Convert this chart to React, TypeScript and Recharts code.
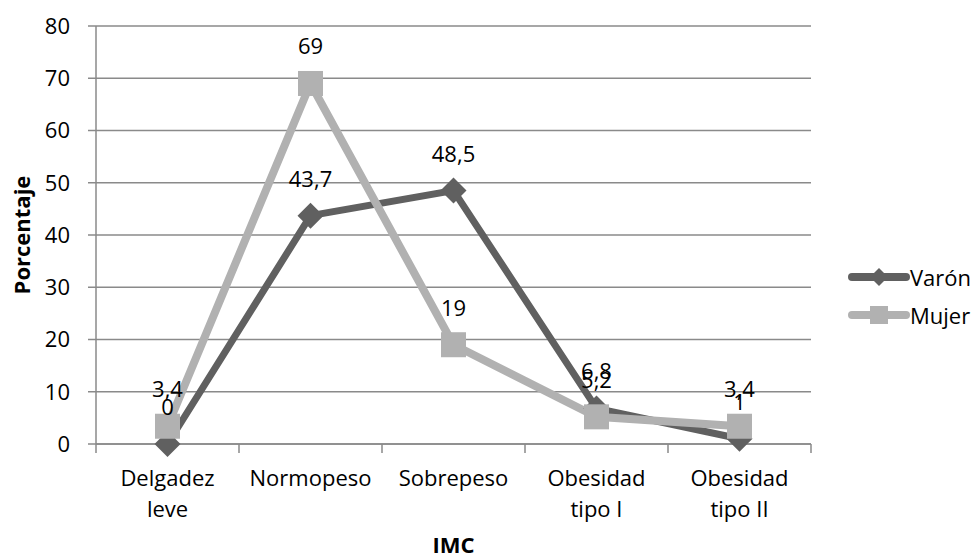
import React from 'react'
import { LineChart, Line, XAxis, YAxis, CartesianGrid, LabelList, Label } from 'recharts'

const categories = ['Delgadez leve', 'Normopeso', 'Sobrepeso', 'Obesidad tipo I', 'Obesidad tipo II']
const varon = [0, 43.7, 48.5, 6.8, 1]
const mujer = [3.4, 69, 19, 5.2, 3.4]
const yTicks = [0, 10, 20, 30, 40, 50, 60, 70, 80]

const VARON_COLOR = '#606060'
const MUJER_COLOR = '#b1b1b1'
const AXIS_COLOR = '#8a8a8a'
const FONT = '"Open Sans", "Liberation Sans", sans-serif'
const FS = 22

const data = categories.map((name, i) => ({ name, varon: varon[i], mujer: mujer[i] }))

const BAND = (811 - 96) / categories.length

const XTick = (props: any) => {
  const { x, payload, index } = props
  const words = String(payload.value).split(' ')
  const lines = words.length > 2 ? [words[0], words.slice(1).join(' ')] : words
  const top = 444
  return (
    <g>
      <line x1={x - BAND / 2} x2={x - BAND / 2} y1={top} y2={top + 9} stroke={AXIS_COLOR} strokeWidth={1.5} />
      {index === categories.length - 1 && (
        <line x1={x + BAND / 2} x2={x + BAND / 2} y1={top} y2={top + 9} stroke={AXIS_COLOR} strokeWidth={1.5} />
      )}
      {lines.map((l, i) => (
        <text key={i} x={x} y={486 + i * 31} textAnchor="middle" fontSize={FS} fill="#000" fontFamily={FONT}>
          {l}
        </text>
      ))}
    </g>
  )
}

const Diamond = (props: any) => {
  const { cx, cy } = props
  if (cx == null || cy == null) return null
  const r = 13
  return <path d={`M${cx},${cy - r}L${cx + r},${cy}L${cx},${cy + r}L${cx - r},${cy}Z`} fill={VARON_COLOR} />
}

const Square = (props: any) => {
  const { cx, cy } = props
  if (cx == null || cy == null) return null
  const s = 12.5
  return <rect x={cx - s} y={cy - s} width={s * 2} height={s * 2} fill={MUJER_COLOR} />
}

const valueLabel = (props: any) => {
  const { x, y, width, value } = props
  const cx = x + (width || 0) / 2
  return (
    <text x={cx} y={y - 29} textAnchor="middle" fontSize={FS} fill="#000" fontFamily={FONT}>
      {String(value).replace('.', ',')}
    </text>
  )
}

const legendItems = [
  { label: 'Varón', color: VARON_COLOR, shape: 'diamond' },
  { label: 'Mujer', color: MUJER_COLOR, shape: 'square' },
]

export default function App() {
  return (
    <div style={{ position: 'absolute', left: 0, top: 0, width: 977, height: 559, background: '#fff' }}>
      <LineChart width={977} height={559} data={data} margin={{ top: 26, right: 166, bottom: 0, left: 0 }}>
        <CartesianGrid vertical={false} stroke={AXIS_COLOR} strokeWidth={1.5} />
        <XAxis
          dataKey="name"
          scale="band"
          height={115}
          stroke={AXIS_COLOR}
          strokeWidth={1.5}
          tickLine={false}
          tick={<XTick />}
          interval={0}
        >
          <Label
            content={(p: any) => (
              <text
                x={p.viewBox.x + p.viewBox.width / 2}
                y={553}
                textAnchor="middle"
                fontSize={FS}
                fontWeight="bold"
                fill="#000"
                fontFamily={FONT}
              >
                IMC
              </text>
            )}
          />
        </XAxis>
        <YAxis
          domain={[0, 80]}
          ticks={yTicks}
          width={96}
          stroke={AXIS_COLOR}
          strokeWidth={1.5}
          tickSize={8}
          tickMargin={18}
          tick={{ fontSize: FS, fill: '#000', fontFamily: FONT }}
        >
          <Label
            content={(p: any) => {
              const cx = 30
              const cy = p.viewBox.y + p.viewBox.height / 2
              return (
                <text
                  x={cx}
                  y={cy}
                  transform={`rotate(-90 ${cx} ${cy})`}
                  textAnchor="middle"
                  fontSize={FS}
                  fontWeight="bold"
                  fill="#000"
                  fontFamily={FONT}
                >
                  Porcentaje
                </text>
              )
            }}
          />
        </YAxis>
        <Line
          dataKey="varon"
          name="Varón"
          stroke={VARON_COLOR}
          strokeWidth={7}
          dot={<Diamond />}
          activeDot={false}
          isAnimationActive={false}
        >
          <LabelList dataKey="varon" content={valueLabel} />
        </Line>
        <Line
          dataKey="mujer"
          name="Mujer"
          stroke={MUJER_COLOR}
          strokeWidth={8}
          dot={<Square />}
          activeDot={false}
          isAnimationActive={false}
        >
          <LabelList dataKey="mujer" content={valueLabel} />
        </Line>
      </LineChart>
      <div style={{ position: 'absolute', left: 848, top: 258, fontFamily: FONT, fontSize: FS, color: '#000' }}>
        {legendItems.map((item) => (
          <div key={item.label} style={{ display: 'flex', alignItems: 'center', height: 38 }}>
            <svg width={62} height={22} style={{ display: 'block' }}>
              <line x1={4} x2={58} y1={11} y2={11} stroke={item.color} strokeWidth={8} strokeLinecap="round" />
              {item.shape === 'diamond' ? (
                <path d="M31,2L40,11L31,20L22,11Z" fill={item.color} />
              ) : (
                <rect x={22} y={2} width={18} height={18} fill={item.color} />
              )}
            </svg>
            <span style={{ lineHeight: 1 }}>{item.label}</span>
          </div>
        ))}
      </div>
    </div>
  )
}
